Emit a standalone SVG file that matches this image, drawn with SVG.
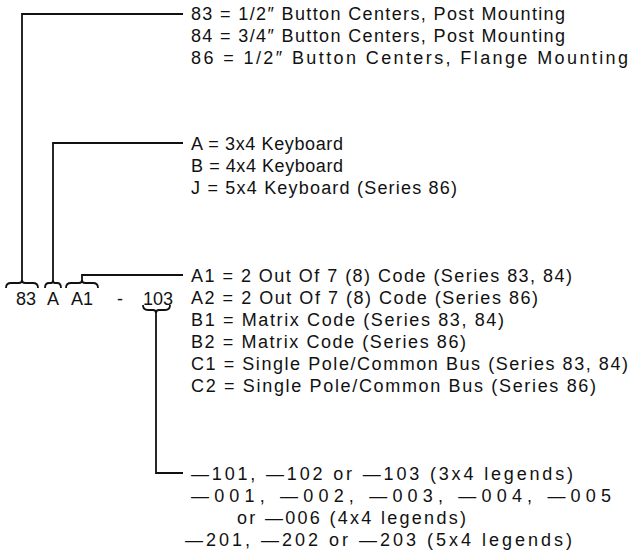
<svg xmlns="http://www.w3.org/2000/svg" width="637" height="558" viewBox="0 0 637 558">
<style>
text{font-family:"Liberation Sans",Arial,sans-serif;font-size:18px;fill:#111}
.c{fill:none;stroke:#111;stroke-width:1.8}
</style>
<rect width="637" height="558" fill="#fff"/>
<g id="connectors">
<path class="c" d="M22,282 V14 H183"/>
<path class="c" d="M53,282 V143 H183"/>
<path class="c" d="M82,282 V275 H183"/>
<path class="c" d="M156,311 V473 H183"/>
<path class="c" d="M6,288 q0,-5 5,-5 h8 q3,0 3,-3 q0,3 3,3 h8 q5,0 5,5"/>
<path class="c" d="M45,288 q0,-5 4,-5 h2 q2,0 2,-3 q0,3 2,3 h2 q4,0 4,5"/>
<path class="c" d="M66,288 q0,-5 5,-5 h8 q3,0 3,-3 q0,3 3,3 h8 q5,0 5,5"/>
<path class="c" d="M143,305 q0,5 5,5 h5 q3,0 3,3 q0,-3 3,-3 h6 q5,0 5,-5"/>
</g>
<g id="code">
<text x="16" y="305">83</text>
<text x="47" y="305">A</text>
<text x="71" y="305">A1</text>
<text x="117" y="305">-</text>
<text x="143" y="305" textLength="30">103</text>
</g>
<g id="series">
<text x="191" y="20" textLength="374">83 = 1/2″ Button Centers, Post Mounting</text>
<text x="191" y="42" textLength="374">84 = 3/4″ Button Centers, Post Mounting</text>
<text x="191" y="64" textLength="437">86 = 1/2″ Button Centers, Flange Mounting</text>
</g>
<g id="keyboard">
<text x="191" y="150" textLength="152">A = 3x4 Keyboard</text>
<text x="191" y="172" textLength="152">B = 4x4 Keyboard</text>
<text x="191" y="194" textLength="266">J = 5x4 Keyboard (Series 86)</text>
</g>
<g id="codes">
<text x="191" y="282" textLength="381">A1 = 2 Out Of 7 (8) Code (Series 83, 84)</text>
<text x="191" y="304" textLength="347">A2 = 2 Out Of 7 (8) Code (Series 86)</text>
<text x="191" y="326" textLength="313">B1 = Matrix Code (Series 83, 84)</text>
<text x="191" y="348" textLength="275">B2 = Matrix Code (Series 86)</text>
<text x="191" y="370" textLength="437">C1 = Single Pole/Common Bus (Series 83, 84)</text>
<text x="191" y="392" textLength="405">C2 = Single Pole/Common Bus (Series 86)</text>
</g>
<g id="legends">
<text x="191" y="480" textLength="382">—101, —102 or —103 (3x4 legends)</text>
<text x="191" y="502" textLength="420">—001, —002, —003, —004, —005</text>
<text x="237" y="524" textLength="229">or —006 (4x4 legends)</text>
<text x="185" y="546" textLength="387">—201, —202 or —203 (5x4 legends)</text>
</g>
</svg>
